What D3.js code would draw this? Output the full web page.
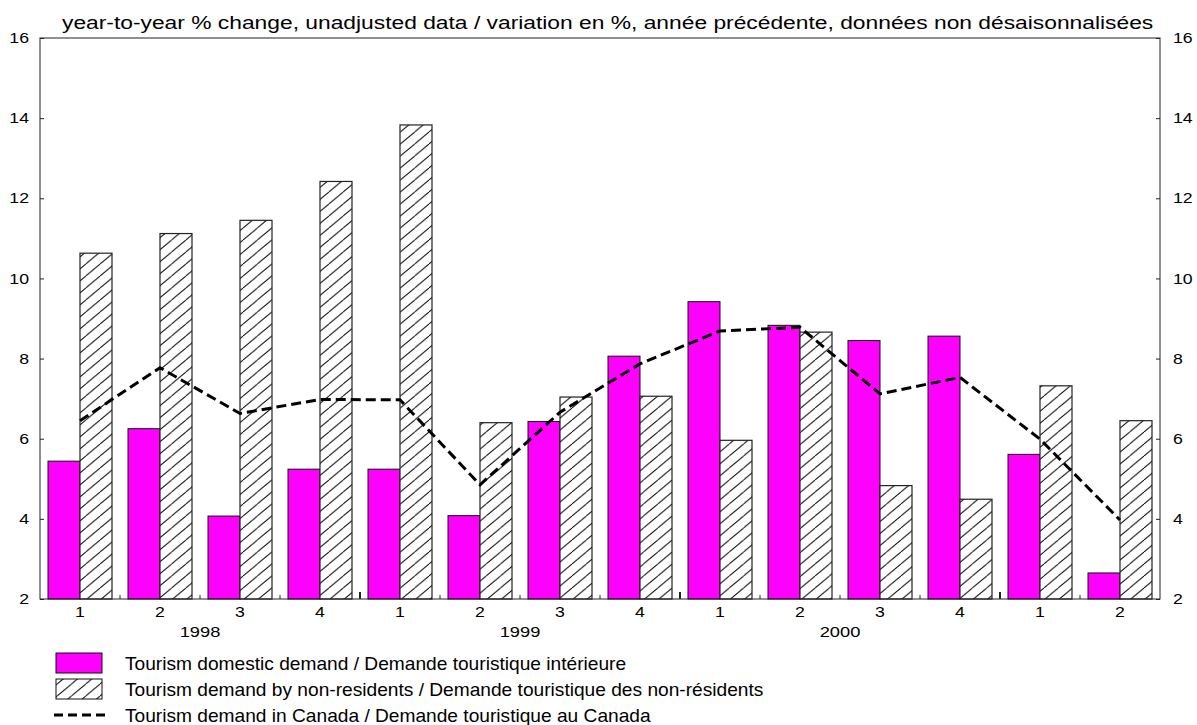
<!DOCTYPE html>
<html>
<head>
<meta charset="utf-8">
<script src="https://cdn.jsdelivr.net/npm/d3@7"></script>
<style>
  body { margin: 0; background: #fff; }
  text { font-family: "Liberation Sans", Arial, sans-serif; fill: #000; }
</style>
</head>
<body>
<div id="chart"></div>
<script>
var w = 1197;
var h = 725;

// data
var quarters = ["1", "2", "3", "4", "1", "2", "3", "4", "1", "2", "3", "4", "1", "2"];
var years = ["1998", "1999", "2000"];
var yearStart = [0, 4, 8];
var domestic = [5.44, 6.25, 4.07, 5.24, 5.24, 4.08, 6.43, 8.06, 9.42, 8.83, 8.45, 8.56, 5.61, 2.65];
var nonResident = [10.63, 11.12, 11.45, 12.42, 13.83, 6.40, 7.04, 7.06, 5.96, 8.66, 4.83, 4.49, 7.32, 6.45];
var total = [6.45, 7.77, 6.63, 6.98, 6.97, 4.85, 6.66, 7.87, 8.69, 8.78, 7.12, 7.53, 5.99, 3.97];
var yTicks = [2, 4, 6, 8, 10, 12, 14, 16];
var title = "year-to-year % change, unadjusted data / variation en %, année précédente, données non désaisonnalisées";
var legendLabels = [
  "Tourism domestic demand / Demande touristique intérieure",
  "Tourism demand by non-residents / Demande touristique des non-résidents",
  "Tourism demand in Canada / Demande touristique au Canada"
];

var pLeft = 40, pRight = 1160, pTop = 38, pBottom = 599;
var sx = 1.22; // labels in the original are stretched horizontally

var svg = d3.select("#chart").append("svg")
  .attr("width", w)
  .attr("height", h);

var defs = svg.append("defs");
var hatch = defs.append("pattern")
  .attr("id", "hatch")
  .attr("patternUnits", "userSpaceOnUse")
  .attr("width", 14.3)
  .attr("height", 12);
hatch.append("rect").attr("width", 14.3).attr("height", 12).attr("fill", "#fff");
hatch.append("path")
  .attr("d", "M-1,12.84 L15.3,-0.84 M-14.3,12 L0,0 M14.3,12 L28.6,0")
  .attr("stroke", "#111")
  .attr("stroke-width", 1);

var x = d3.scaleBand()
  .domain(d3.range(quarters.length))
  .range([pLeft, pRight])
  .paddingInner(0.2)
  .paddingOuter(0.1);
var bw = x.bandwidth() / 2;

var y = d3.scaleLinear()
  .domain([2, 16])
  .range([pBottom, pTop]);

// bars
svg.selectAll(".dom")
    .data(domestic)
  .enter().append("rect")
    .attr("class", "dom")
    .attr("x", function(d, i) { return x(i); })
    .attr("y", function(d) { return y(d); })
    .attr("width", bw)
    .attr("height", function(d) { return y(2) - y(d); })
    .attr("fill", "#ff00ff")
    .attr("stroke", "#111")
    .attr("stroke-width", 1);

svg.selectAll(".nonres")
    .data(nonResident)
  .enter().append("rect")
    .attr("class", "nonres")
    .attr("x", function(d, i) { return x(i) + bw; })
    .attr("y", function(d) { return y(d); })
    .attr("width", bw)
    .attr("height", function(d) { return y(2) - y(d); })
    .attr("fill", "url(#hatch)")
    .attr("stroke", "#222")
    .attr("stroke-width", 1.2);

// line
var line = d3.line()
  .x(function(d, i) { return x(i) + bw; })
  .y(function(d) { return y(d); });

svg.append("path")
  .datum(total)
  .attr("d", line)
  .attr("fill", "none")
  .attr("stroke", "#000")
  .attr("stroke-width", 3)
  .attr("stroke-dasharray", "10,5");

// frame
svg.append("rect")
  .attr("x", pLeft).attr("y", pTop)
  .attr("width", pRight - pLeft).attr("height", pBottom - pTop)
  .attr("fill", "none")
  .attr("stroke", "#222")
  .attr("stroke-width", 1);

// y axes
var yl = svg.append("g")
  .attr("transform", "translate(" + pLeft + ",0)")
  .call(d3.axisLeft(y).tickValues(yTicks).tickSizeInner(-4).tickSizeOuter(0).tickPadding(11));
yl.select(".domain").remove();
yl.selectAll("text")
  .attr("x", -11 / sx)
  .attr("transform", "scale(" + sx + ",1)")
  .style("font-size", "14.5px");

var yr = svg.append("g")
  .attr("transform", "translate(" + pRight + ",0)")
  .call(d3.axisRight(y).tickValues(yTicks).tickSizeInner(-4).tickSizeOuter(0).tickPadding(13));
yr.select(".domain").remove();
yr.selectAll("text")
  .attr("x", 13 / sx)
  .attr("transform", "scale(" + sx + ",1)")
  .style("font-size", "14.5px");

svg.selectAll(".tick line").attr("stroke", "#222");

// x axis: quarter labels, centred between the two bars of each quarter
var xa = svg.append("g")
  .attr("transform", "translate(0," + pBottom + ")")
  .call(d3.axisBottom(x).tickSize(0).tickPadding(8).tickFormat(function(i) { return quarters[i]; }));
xa.select(".domain").remove();
xa.selectAll("text")
  .attr("transform", "scale(" + sx + ",1)")
  .style("font-size", "14.5px");

// boundary ticks
var boundaries = d3.range(1, quarters.length);
svg.selectAll(".btick")
    .data(boundaries)
  .enter().append("line")
    .attr("class", "btick")
    .attr("x1", function(i) { return x(i) - x.step() * x.paddingInner() / 2; })
    .attr("x2", function(i) { return x(i) - x.step() * x.paddingInner() / 2; })
    .attr("y1", pBottom)
    .attr("y2", function(i) { return i % 4 == 0 ? pBottom - 7 : pBottom - 4; })
    .attr("stroke", "#222")
    .attr("stroke-width", function(i) { return i % 4 == 0 ? 2 : 1; });

// year labels
svg.selectAll(".year")
    .data(years)
  .enter().append("text")
    .attr("class", "year")
    .attr("transform", function(d, k) {
      var cx = (x(yearStart[k]) + x(yearStart[k] + 3)) / 2 + bw;
      return "translate(" + cx + ",637) scale(" + sx + ",1)";
    })
    .attr("text-anchor", "middle")
    .style("font-size", "15px")
    .text(function(d) { return d; });

// title
svg.append("text")
  .attr("transform", "translate(62,29) scale(" + sx + ",1)")
  .style("font-size", "18.7px")
  .text(title);

// legend
var lg = svg.append("g");
lg.append("rect")
  .attr("x", 56).attr("y", 653).attr("width", 46).attr("height", 20)
  .attr("fill", "#ff00ff").attr("stroke", "#111");
lg.append("rect")
  .attr("x", 56).attr("y", 679).attr("width", 46).attr("height", 20)
  .attr("fill", "url(#hatch)").attr("stroke", "#111");
lg.append("line")
  .attr("x1", 54).attr("x2", 105).attr("y1", 715).attr("y2", 715)
  .attr("stroke", "#000").attr("stroke-width", 3).attr("stroke-dasharray", "9,5");
lg.selectAll(".ltext")
    .data(legendLabels)
  .enter().append("text")
    .attr("class", "ltext")
    .attr("x", 125)
    .attr("y", function(d, i) { return 670 + i * 26; })
    .style("font-size", "19.15px")
    .text(function(d) { return d; });
</script>
</body>
</html>
